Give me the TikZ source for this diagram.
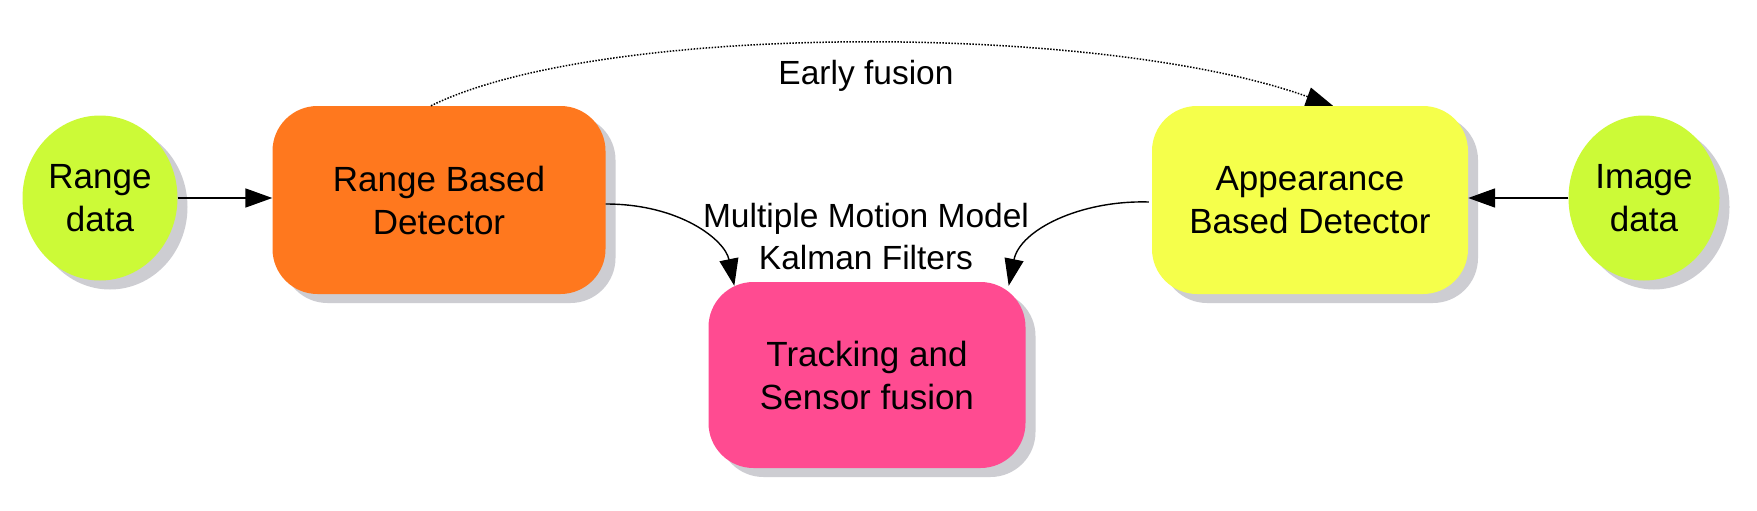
\documentclass[tikz,border=0pt]{standalone}
\usepackage{fontspec}
\setmainfont{Liberation Sans}
\usetikzlibrary{shapes.geometric,arrows.meta,shadows,calc}
\definecolor{cgreen}{RGB}{204,250,55}
\definecolor{corange}{RGB}{255,120,30}
\definecolor{cpink}{RGB}{255,75,145}
\definecolor{cyellow}{RGB}{245,255,75}
\definecolor{cshadow}{RGB}{205,205,210}
\tikzset{
  shad/.style={drop shadow={shadow xshift=10pt, shadow yshift=-9pt, fill=cshadow, opacity=1}},
  datanode/.style={ellipse, shad, draw=none, minimum width=155pt, minimum height=165pt, inner sep=0pt, align=center, font=\fontsize{35}{43}\selectfont},
  boxnode/.style={rectangle, rounded corners=45pt, shad, draw=none, minimum width=320pt, minimum height=188pt, inner sep=0pt, align=center, font=\fontsize{35}{43}\selectfont},
  lbl/.style={align=center, inner sep=0pt, font=\fontsize{33.5}{42}\selectfont},
  arr/.style={-{Triangle[length=27pt,width=19pt]}, line width=1.8pt, black},
}
\begin{document}
\begin{tikzpicture}[x=1pt,y=-1pt]
\useasboundingbox[fill=white] (0,0) rectangle (1757,511);
\node[datanode, fill=cgreen] (rd) at (100,198) {Range\\data};
\node[boxnode, fill=corange, minimum width=333pt] (rbd) at (439,200) {Range Based\\Detector};
\node[boxnode, fill=cpink, minimum width=317pt, minimum height=186pt] (tsf) at (867,375) {Tracking and\\Sensor fusion};
\node[boxnode, fill=cyellow, minimum width=316pt] (abd) at (1310,200) {Appearance\\Based Detector};
\node[datanode, fill=cgreen, minimum width=151pt] (id) at (1644,198) {Image\\data};
\node[lbl] (ef) at (866,76) {Early fusion};
\node[lbl] (mmm) at (866,237) {Multiple Motion Model\\Kalman Filters};
\draw[arr] (rd.east) -- (rd.east -| rbd.west);
\draw[arr] (id.west) -- (id.west -| abd.east);
\draw[arr, dash pattern=on 1.5pt off 1.5pt, line width=1.5pt] ($(rbd.north)+(-8,0)$) .. controls (600,22) and (1100,22) .. ($(abd.north)+(23,0)$);
\draw[arr, line width=1.4pt] ($(rbd.east)+(0,4)$) .. controls (680,204) and (725,240) .. ($(tsf.north west)+(26,4)$);
\draw[arr, line width=1.4pt] ($(abd.west)+(-3,2)$) .. controls (1080,200) and (1020,230) .. ($(tsf.north east)+(-17,4)$);
\end{tikzpicture}
\end{document}
